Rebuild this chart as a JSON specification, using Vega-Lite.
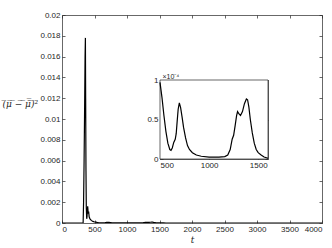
{
  "$schema": "https://vega.github.io/schema/vega-lite/v6.json",
  "width": 260,
  "height": 208,
  "autosize": {"type": "none"},
  "padding": {"left": 62, "top": 15, "right": 10, "bottom": 25},
  "background": "white",
  "config": {
    "view": {"stroke": null},
    "axis": {
      "grid": false,
      "labelFont": "Liberation Sans",
      "labelFontSize": 8,
      "labelColor": "#262626",
      "domainColor": "#262626",
      "tickColor": "#262626",
      "domainWidth": 0.7,
      "tickWidth": 0.7,
      "tickSize": -3,
      "labelPadding": 5,
      "titleColor": "#262626"
    }
  },
  "datasets": {
    "series": [
      {"t": 0, "v": 0}, {"t": 100, "v": 0}, {"t": 200, "v": 0}, {"t": 300, "v": 0},
      {"t": 325, "v": 0}, {"t": 332, "v": 0.002}, {"t": 340, "v": 0.006}, {"t": 348, "v": 0.011},
      {"t": 355, "v": 0.016}, {"t": 360, "v": 0.0178}, {"t": 364, "v": 0.012}, {"t": 369, "v": 0.005},
      {"t": 374, "v": 0.0015}, {"t": 380, "v": 0.0004}, {"t": 385, "v": 0.0006}, {"t": 390, "v": 0.0013},
      {"t": 395, "v": 0.0016}, {"t": 400, "v": 0.0012}, {"t": 405, "v": 0.0009}, {"t": 410, "v": 0.0011},
      {"t": 418, "v": 0.0006}, {"t": 430, "v": 0.0004}, {"t": 450, "v": 0.00025}, {"t": 475, "v": 0.00015},
      {"t": 500, "v": 0.000097}, {"t": 520, "v": 0.000078}, {"t": 540, "v": 0.000055}, {"t": 560, "v": 0.000035},
      {"t": 580, "v": 0.00002}, {"t": 600, "v": 0.000012}, {"t": 612, "v": 0.000011}, {"t": 625, "v": 0.000014},
      {"t": 640, "v": 0.000021}, {"t": 655, "v": 0.000025}, {"t": 665, "v": 0.000032}, {"t": 675, "v": 0.000048},
      {"t": 685, "v": 0.000063}, {"t": 697, "v": 0.000071}, {"t": 710, "v": 0.000065}, {"t": 725, "v": 0.000053},
      {"t": 740, "v": 0.00004}, {"t": 760, "v": 0.000027}, {"t": 780, "v": 0.000017}, {"t": 800, "v": 0.000012},
      {"t": 830, "v": 0.000008}, {"t": 870, "v": 0.000005}, {"t": 920, "v": 0.0000035}, {"t": 1000, "v": 0.0000025},
      {"t": 1100, "v": 0.0000025}, {"t": 1160, "v": 0.000003}, {"t": 1190, "v": 0.000005}, {"t": 1215, "v": 0.000012},
      {"t": 1235, "v": 0.000025}, {"t": 1250, "v": 0.00003}, {"t": 1265, "v": 0.000042}, {"t": 1280, "v": 0.000055},
      {"t": 1290, "v": 0.00006}, {"t": 1305, "v": 0.000057}, {"t": 1320, "v": 0.000055}, {"t": 1340, "v": 0.00006},
      {"t": 1360, "v": 0.00007}, {"t": 1380, "v": 0.000076}, {"t": 1392, "v": 0.000075}, {"t": 1405, "v": 0.000066},
      {"t": 1420, "v": 0.00005}, {"t": 1440, "v": 0.000033}, {"t": 1460, "v": 0.00002}, {"t": 1480, "v": 0.000012},
      {"t": 1500, "v": 0.000008}, {"t": 1530, "v": 0.000005}, {"t": 1560, "v": 0.0000025}, {"t": 1600, "v": 0.000001},
      {"t": 2000, "v": 0.0000005}, {"t": 3000, "v": 0}, {"t": 4000, "v": 0}
    ],
    "box": [{"t0": 500, "t1": 1600, "v0": 0, "v1": 0.0001}]
  },
  "layer": [
    {
      "data": {"name": "series"},
      "mark": {"type": "line", "color": "black", "strokeWidth": 1.2, "clip": true},
      "encoding": {
        "x": {
          "field": "t", "type": "quantitative",
          "scale": {"domain": [0, 4000], "nice": false, "zero": false},
          "axis": {
            "orient": "bottom",
            "values": [0, 500, 1000, 1500, 2000, 2500, 3000, 3500, 4000],
            "format": "d",
            "title": "t",
            "titleFont": "DejaVu Serif",
            "titleFontStyle": "italic",
            "titleFontWeight": "normal",
            "titleFontSize": 9,
            "titlePadding": 2
          }
        },
        "y": {
          "field": "v", "type": "quantitative",
          "scale": {"domain": [0, 0.02], "nice": false},
          "axis": {
            "orient": "left",
            "values": [0, 0.002, 0.004, 0.006, 0.008, 0.01, 0.012, 0.014, 0.016, 0.018, 0.02],
            "format": "~g",
            "title": "(̅μ̅ ̅−̅ ̅μ̄̅)̅²",
            "titleFont": "DejaVu Serif",
            "titleFontStyle": "italic",
            "titleFontWeight": "normal",
            "titleFontSize": 9,
            "titleAngle": 0,
            "titleAlign": "left",
            "titleBaseline": "middle",
            "titleX": -60,
            "titleY": 88
          }
        }
      }
    },
    {
      "data": {"name": "series"},
      "mark": {"type": "line", "opacity": 0},
      "encoding": {
        "x": {
          "field": "t", "type": "quantitative",
          "scale": {"domain": [0, 4000], "nice": false, "zero": false},
          "axis": {"orient": "top", "values": [0, 500, 1000, 1500, 2000, 2500, 3000, 3500, 4000], "labels": false, "title": null}
        },
        "y": {
          "field": "v", "type": "quantitative",
          "scale": {"domain": [0, 0.02], "nice": false},
          "axis": {"orient": "right", "values": [0, 0.002, 0.004, 0.006, 0.008, 0.01, 0.012, 0.014, 0.016, 0.018, 0.02], "labels": false, "title": null}
        }
      }
    },
    {
      "layer": [
        {
          "data": {"name": "box"},
          "mark": {"type": "rect", "fill": "white", "stroke": "#262626", "strokeWidth": 0.7},
          "encoding": {
            "x": {"field": "t0", "type": "quantitative", "scale": {"domain": [500, 1600], "range": [98, 206], "nice": false, "zero": false},
              "axis": {"orient": "top", "offset": -65, "values": [500, 1000, 1500], "labels": false, "title": null}},
            "x2": {"field": "t1"},
            "y": {"field": "v0", "type": "quantitative", "scale": {"domain": [0, 0.0001], "range": [144, 65], "nice": false},
              "axis": {"orient": "right", "offset": -54, "values": [0, 0.00005, 0.0001], "labels": false, "title": null}},
            "y2": {"field": "v1"}
          }
        },
        {
          "data": {"name": "series"},
          "transform": [{"filter": "datum.t >= 500 && datum.t <= 1600"}],
          "mark": {"type": "line", "color": "black", "strokeWidth": 1.2},
          "encoding": {
            "x": {"field": "t", "type": "quantitative",
              "axis": {"orient": "bottom", "offset": -64, "values": [500, 1000, 1500], "format": "d", "title": null}},
            "y": {"field": "v", "type": "quantitative",
              "axis": {"orient": "left", "offset": -98, "values": [0, 0.00005, 0.0001],
                "labelExpr": "format(datum.value * 10000, '~g')",
                "title": "×10⁻⁴", "titleFont": "Liberation Sans", "titleFontSize": 7, "titleFontWeight": "normal",
                "titleAngle": 0, "titleAlign": "left", "titleBaseline": "bottom", "titleX": 2, "titleY": 64}}
          }
        }
      ],
      "resolve": {"axis": {"x": "independent", "y": "independent"}}
    }
  ],
  "resolve": {"scale": {"x": "independent", "y": "independent"}}
}
